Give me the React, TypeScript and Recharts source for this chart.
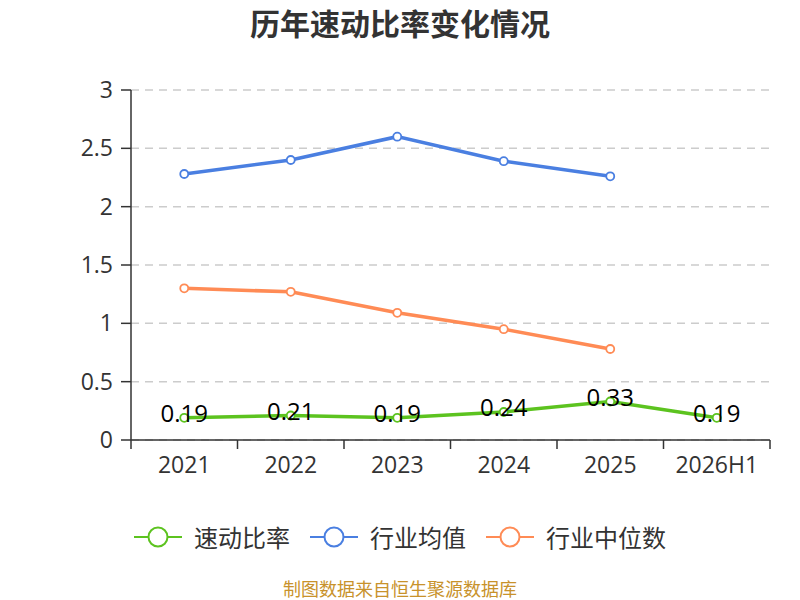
import React from 'react';
import { LineChart, Line, XAxis, YAxis, CartesianGrid, LabelList } from 'recharts';

const categories = ['2021', '2022', '2023', '2024', '2025', '2026H1'];
const quickRatio = [0.19, 0.21, 0.19, 0.24, 0.33, 0.19];
const industryAvg: (number | null)[] = [2.28, 2.4, 2.6, 2.39, 2.26, null];
const industryMedian: (number | null)[] = [1.3, 1.27, 1.09, 0.95, 0.78, null];
const yTicks = [0, 0.5, 1, 1.5, 2, 2.5, 3];

const seriesNames = ['速动比率', '行业均值', '行业中位数'];
const colors = ['#5cc31f', '#4a7fe1', '#ff8b55'];

const data = categories.map((c, i) => ({
  idx: i,
  name: c,
  quick: quickRatio[i],
  avg: industryAvg[i],
  median: industryMedian[i],
}));

const xTicks: number[] = [];
for (let i = 0; i <= categories.length * 2; i++) xTicks.push(i / 2 - 0.5);

const FONT = '"Open Sans", "Noto Sans CJK SC", sans-serif';
const TICK_SIZE = 9;
const TICK_MARGIN = 8;

const XTick = (props: any) => {
  const { x, y, payload } = props;
  const v = payload.value as number;
  const axisY = y - TICK_SIZE - TICK_MARGIN;
  if (Number.isInteger(v)) {
    return (
      <text x={x} y={y} dy="0.71em" textAnchor="middle" fill="#333" fontSize={23} fontFamily={FONT}>
        {categories[v]}
      </text>
    );
  }
  return <line x1={x} x2={x} y1={axisY} y2={axisY + TICK_SIZE} stroke="#333" strokeWidth={1.5} />;
};

const DataLabel = (props: any) => {
  const { x, y, value } = props;
  return (
    <text x={x} y={y + 4} textAnchor="middle" fill="#000" fontSize={24} fontFamily={FONT}>
      {value}
    </text>
  );
};

export default function App() {
  return (
    <div style={{ position: 'absolute', left: 0, top: 0, width: 800, height: 600, background: '#fff', fontFamily: FONT, overflow: 'hidden' }}>
      <div
        style={{
          position: 'absolute',
          top: 5,
          left: 0,
          width: 800,
          textAlign: 'center',
          fontSize: 30,
          fontWeight: 'bold',
          color: '#333',
          lineHeight: '34px',
          fontFamily: '"Noto Sans CJK SC", sans-serif',
        }}
      >
        历年速动比率变化情况
      </div>
      <LineChart width={800} height={600} data={data} margin={{ top: 90, right: 30, left: 0, bottom: 120 }}>
        <CartesianGrid vertical={false} stroke="#ccc" strokeDasharray="8 6" strokeWidth={1.5} />
        <XAxis
          type="number"
          dataKey="idx"
          domain={[-0.5, 5.5]}
          ticks={xTicks}
          interval={0}
          tickLine={false}
          tickSize={TICK_SIZE}
          tickMargin={TICK_MARGIN}
          tick={<XTick />}
          axisLine={{ stroke: '#333', strokeWidth: 1.5 }}
          height={40}
        />
        <YAxis
          domain={[0, 3]}
          ticks={yTicks}
          width={131}
          tickSize={10}
          tickMargin={8}
          tick={{ fill: '#333', fontSize: 23, fontFamily: FONT }}
          axisLine={{ stroke: '#333', strokeWidth: 1.5 }}
          tickLine={{ stroke: '#333', strokeWidth: 1.5 }}
        />
        <Line
          type="linear"
          dataKey="avg"
          stroke={colors[1]}
          strokeWidth={3.5}
          dot={{ r: 4, fill: '#fff', stroke: colors[1], strokeWidth: 1.8 }}
          isAnimationActive={false}
        />
        <Line
          type="linear"
          dataKey="median"
          stroke={colors[2]}
          strokeWidth={3.5}
          dot={{ r: 4, fill: '#fff', stroke: colors[2], strokeWidth: 1.8 }}
          isAnimationActive={false}
        />
        <Line
          type="linear"
          dataKey="quick"
          stroke={colors[0]}
          strokeWidth={3.5}
          dot={{ r: 4, fill: '#fff', stroke: colors[0], strokeWidth: 1.8 }}
          isAnimationActive={false}
        >
          <LabelList dataKey="quick" content={<DataLabel />} />
        </Line>
      </LineChart>
      <div
        style={{
          position: 'absolute',
          top: 522,
          left: 0,
          width: 800,
          display: 'flex',
          justifyContent: 'center',
          alignItems: 'center',
          gap: 20,
        }}
      >
        {seriesNames.map((n, i) => (
          <div key={n} style={{ display: 'flex', alignItems: 'center' }}>
            <svg width={48} height={30} style={{ marginRight: 12 }}>
              <line x1={0} x2={48} y1={15} y2={15} stroke={colors[i]} strokeWidth={2} />
              <circle cx={24} cy={15} r={9.5} fill="#fff" stroke={colors[i]} strokeWidth={2} />
            </svg>
            <span style={{ fontSize: 24, color: '#333', fontFamily: '"Noto Sans CJK SC", sans-serif', lineHeight: '30px' }}>{n}</span>
          </div>
        ))}
      </div>
      <div
        style={{
          position: 'absolute',
          top: 579,
          left: 0,
          width: 800,
          textAlign: 'center',
          fontSize: 18,
          color: '#c8922b',
          lineHeight: '19px',
          fontFamily: '"Noto Sans CJK SC", sans-serif',
        }}
      >
        制图数据来自恒生聚源数据库
      </div>
    </div>
  );
}
